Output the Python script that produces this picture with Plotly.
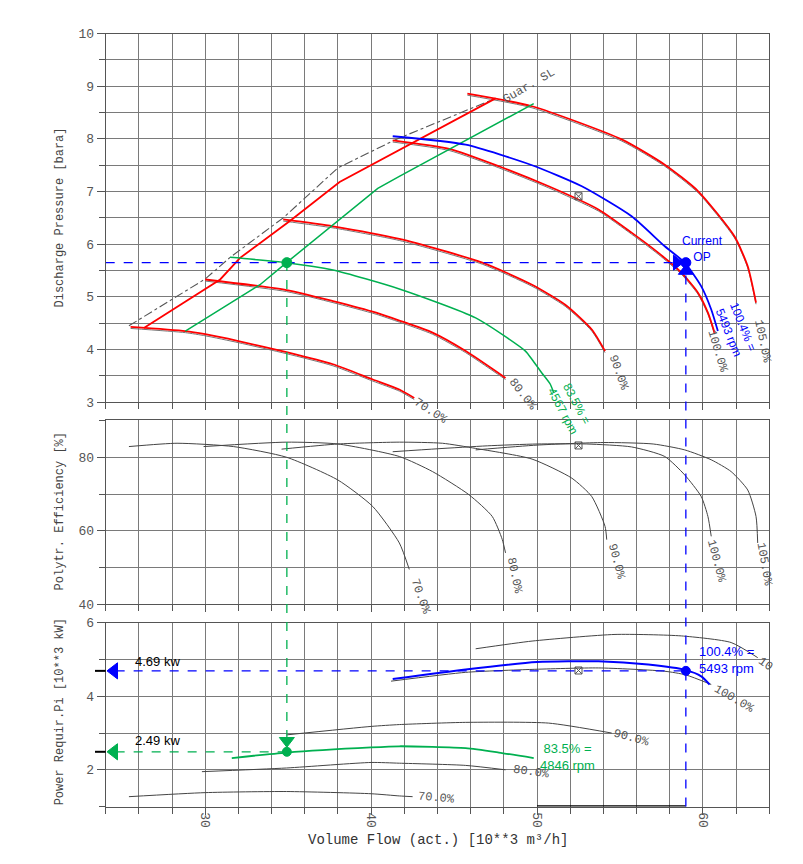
import plotly.graph_objects as go

# ---------------- data ----------------
# Discharge pressure [bara] vs volume flow [10**3 m3/h]
p70_x = [25.5, 28.8, 30.0, 32.0, 34.9, 37.7, 40.1, 41.7, 42.6]
p70_y = [4.43, 4.35, 4.29, 4.16, 3.95, 3.72, 3.43, 3.24, 3.08]
p80_x = [30.0, 34.9, 37.7, 40.3, 41.7, 43.7, 45.7, 48.1]
p80_y = [5.33, 5.13, 4.92, 4.70, 4.55, 4.32, 3.97, 3.46]
p835_x = [31.5, 34.9, 37.7, 41.7, 46.3, 49.3, 49.7, 50.3, 50.8, 51.0]
p835_y = [5.75, 5.65, 5.51, 5.15, 4.60, 3.97, 3.81, 3.55, 3.34, 3.18]
p90_x = [34.7, 37.7, 41.7, 46.7, 49.7, 51.7, 53.3, 54.1]
p90_y = [6.47, 6.34, 6.10, 5.65, 5.23, 4.85, 4.38, 3.97]
p100_x = [41.3, 44.7, 47.7, 50.7, 53.7, 55.7, 57.3, 58.7, 59.7, 60.3, 60.7]
p100_y = [7.97, 7.81, 7.48, 7.10, 6.66, 6.22, 5.84, 5.46, 5.08, 4.70, 4.32]
p1004_x = [41.3, 45.7, 49.7, 52.7, 55.7, 57.7, 58.9, 59.9, 60.5, 60.9]
p1004_y = [8.05, 7.89, 7.50, 7.10, 6.53, 5.96, 5.65, 5.20, 4.76, 4.35]
p105_x = [45.8, 49.7, 55.1, 57.7, 59.7, 61.9, 62.7, 63.2]
p105_y = [8.86, 8.62, 7.99, 7.51, 7.01, 6.15, 5.58, 4.89]

surge_red_x = [26.3, 30.9, 32.1, 35.1, 38.1, 40.3, 41.7, 47.5]
surge_red_y = [4.41, 5.33, 5.74, 6.44, 7.18, 7.55, 7.80, 8.77]
surge_green_x = [28.8, 33.3, 34.9, 38.1, 40.4, 41.7, 49.8]
surge_green_y = [4.35, 5.23, 5.65, 6.47, 7.06, 7.29, 8.67]
surge_guar_x = [25.4, 30.0, 31.5, 34.7, 38.0, 41.5, 47.5]
surge_guar_y = [4.45, 5.34, 5.75, 6.50, 7.45, 7.99, 8.77]

# Polytropic efficiency [%]
e70_x = [25.4, 28.3, 31.7, 34.9, 38.0, 40.1, 41.7, 42.3]
e70_y = [82.9, 83.8, 82.9, 80.0, 73.8, 66.6, 56.7, 49.5]
e80_x = [29.9, 34.9, 38.0, 41.7, 43.7, 45.9, 47.3, 47.9, 48.1]
e80_y = [82.9, 84.1, 83.6, 80.2, 76.1, 69.8, 63.9, 57.7, 54.0]
e90_x = [34.6, 38.0, 41.7, 44.3, 46.3, 49.7, 52.1, 53.3, 54.1, 54.2]
e90_y = [82.2, 83.6, 84.1, 83.8, 82.4, 79.5, 74.3, 69.3, 61.2, 57.6]
e100_x = [41.3, 44.0, 47.0, 50.0, 53.0, 55.7, 57.7, 58.9, 59.9, 60.3, 60.5]
e100_y = [81.5, 82.3, 83.1, 83.6, 83.6, 82.8, 80.2, 75.2, 69.3, 63.9, 58.5]
e105_x = [46.3, 50.0, 54.0, 57.0, 58.9, 60.5, 61.7, 62.7, 63.2, 63.3]
e105_y = [82.0, 83.3, 84.0, 83.6, 82.0, 79.3, 76.1, 71.1, 63.9, 56.7]

# Power requirement [10**3 kW]
w70_x = [25.4, 30.0, 34.9, 40.0, 41.7, 42.5]
w70_y = [1.27, 1.38, 1.41, 1.35, 1.29, 1.27]
w80_x = [29.8, 34.9, 40.0, 41.7, 45.7, 48.1]
w80_y = [1.95, 2.05, 2.20, 2.18, 2.12, 2.00]
w835_x = [31.6, 34.9, 40.0, 41.7, 45.7, 47.7, 49.8]
w835_y = [2.32, 2.47, 2.61, 2.64, 2.59, 2.47, 2.32]
w90_x = [34.9, 40.0, 41.7, 45.7, 50.7, 54.5]
w90_y = [2.95, 3.18, 3.23, 3.29, 3.27, 3.00]
w100_x = [41.2, 45.7, 49.7, 53.7, 57.7, 58.97, 60.5]
w100_y = [4.41, 4.65, 4.73, 4.77, 4.68, 4.58, 4.32]
w1004_x = [41.3, 45.7, 50.0, 53.7, 56.7, 58.97, 59.9, 60.4]
w1004_y = [4.47, 4.73, 4.93, 4.95, 4.86, 4.71, 4.54, 4.32]
w105_x = [46.3, 49.7, 54.7, 58.7, 61.7, 63.3]
w105_y = [5.29, 5.50, 5.68, 5.64, 5.46, 5.05]

# operating points
op_flow, op_pres, op_power = 58.97, 5.65, 4.69
gr_flow, gr_pres, gr_power = 34.92, 5.65, 2.49
design_flow = 52.5
design_vals = [6.91, 83.2, 4.70]
base_bar_x = [50.0, 58.97]
base_bar_y = [1.0, 1.0]

x_range = [24, 64]

# ---------------- styling ----------------
RED, GREEN, BLUE = "#ff0000", "#00b050", "#0000ff"
GRAY = "#444444"
GRID = "#7a7a7a"
MONO = "Liberation Mono, Courier New, monospace"
SANS = "Arial, Liberation Sans, sans-serif"

W, H = 803, 864


def pxx(p):
    return (p - 8) / W


def pxy(p):
    return (H - (p - 14.4) / 0.983) / H


xdom = [pxx(105.7), pxx(769.3)]
dom_top = [pxy(402.7), pxy(34)]
dom_mid = [pxy(605), pxy(421)]
dom_bot = [pxy(807.3), pxy(623.3)]
rng_top, rng_mid, rng_bot = [3, 10], [40, 90], [1, 6]


def to_paper(v, dom, rng):
    return dom[0] + (v - rng[0]) / (rng[1] - rng[0]) * (dom[1] - dom[0])


fig = go.Figure()


def line(x, y, axis, color, width=1.6, dash="solid", spline=True):
    xa, ya = axis
    fig.add_trace(go.Scatter(
        x=x, y=y, mode="lines", xaxis=xa, yaxis=ya, hoverinfo="skip",
        line=dict(color=color, width=width, dash=dash,
                  shape="spline" if spline else "linear", smoothing=0.6),
        showlegend=False))


def marker(x, y, axis, color, symbol, size):
    xa, ya = axis
    fig.add_trace(go.Scatter(
        x=x, y=y, mode="markers", xaxis=xa, yaxis=ya, hoverinfo="skip",
        marker=dict(color=color, symbol=symbol, size=size,
                    line=dict(color=color, width=1)),
        showlegend=False, cliponaxis=False))


TOP, MID, BOT = ("x", "y"), ("x2", "y2"), ("x3", "y3")

# top panel
line(surge_guar_x, surge_guar_y, TOP, "#555555", 1.1, "dashdot", False)
for xs, ys in [(p70_x, p70_y), (p80_x, p80_y), (p90_x, p90_y), (p100_x, p100_y), (p105_x, p105_y)]:
    line(xs, [v - 0.03 for v in ys], TOP, "#777777", 1.0)
    line(xs, ys, TOP, RED, 1.8)
line(surge_red_x, surge_red_y, TOP, RED, 1.8, spline=False)
line(surge_green_x, surge_green_y, TOP, GREEN, 1.5, spline=False)
line(p835_x, p835_y, TOP, GREEN, 1.5)
line(p1004_x, p1004_y, TOP, BLUE, 1.8)
line([x_range[0], op_flow - 0.55], [op_pres, op_pres], TOP, BLUE, 1.3, "dash", False)

# middle panel
for xs, ys in [(e70_x, e70_y), (e80_x, e80_y), (e90_x, e90_y), (e100_x, e100_y), (e105_x, e105_y)]:
    line(xs, ys, MID, GRAY, 1.0)

# bottom panel
for xs, ys in [(w70_x, w70_y), (w80_x, w80_y), (w90_x, w90_y), (w100_x, w100_y), (w105_x, w105_y)]:
    line(xs, ys, BOT, GRAY, 1.0)
line(w835_x, w835_y, BOT, GREEN, 1.8)
line(w1004_x, w1004_y, BOT, BLUE, 2.0)
line([x_range[0] + 0.6, op_flow], [op_power, op_power], BOT, BLUE, 1.3, "dash", False)
line([x_range[0] + 0.6, gr_flow], [gr_power, gr_power], BOT, GREEN, 1.3, "dash", False)
fig.add_trace(go.Scatter(x=base_bar_x, y=base_bar_y, mode="lines", xaxis="x3", yaxis="y3",
                         line=dict(color="black", width=2.5), cliponaxis=False,
                         hoverinfo="skip", showlegend=False))

# markers
marker([design_flow], [design_vals[0]], TOP, "#555555", "square-x-open", 7)
marker([design_flow], [design_vals[1]], MID, "#555555", "square-x-open", 7)
marker([design_flow], [design_vals[2]], BOT, "#555555", "square-x-open", 7)
marker([op_flow], [op_pres], TOP, BLUE, "circle", 10)
marker([gr_flow], [gr_pres], TOP, GREEN, "circle", 10)
marker([op_flow - 0.55], [op_pres], TOP, BLUE, "triangle-right", 13)
marker([op_flow], [op_pres - 0.16], TOP, BLUE, "triangle-up", 13)
marker([op_flow], [op_power], BOT, BLUE, "circle", 9)
marker([gr_flow], [gr_power], BOT, GREEN, "circle", 9)
marker([gr_flow], [gr_power + 0.3], BOT, GREEN, "triangle-down", 13)
marker([x_range[0] + 0.5], [op_power], BOT, BLUE, "triangle-left", 14)
marker([x_range[0] + 0.5], [gr_power], BOT, GREEN, "triangle-left", 14)

# shapes spanning panels
shapes = [
    dict(type="line", xref="x", yref="paper", x0=op_flow, x1=op_flow,
         y0=dom_bot[0], y1=to_paper(op_pres - 0.2, dom_top, rng_top),
         line=dict(color=BLUE, width=1.3, dash="dash")),
    dict(type="line", xref="x", yref="paper", x0=gr_flow, x1=gr_flow,
         y0=to_paper(gr_power + 0.35, dom_bot, rng_bot), y1=to_paper(gr_pres, dom_top, rng_top),
         line=dict(color=GREEN, width=1.3, dash="dash")),
]
for pv in [op_power, gr_power]:
    yp = to_paper(pv, dom_bot, rng_bot)
    shapes.append(dict(type="line", xref="paper", yref="paper", x0=pxx(95), x1=xdom[0],
                       y0=yp, y1=yp, line=dict(color="black", width=2)))

# annotations (positions in reference pixels)
ann = []


def lab(text, px, py, angle, color="#555555", font=MONO, size=12, **kw):
    d = dict(text=text, x=pxx(px), y=pxy(py), xref="paper", yref="paper", textangle=angle,
             showarrow=False, font=dict(family=font, size=size, color=color),
             xanchor="center", yanchor="middle")
    d.update(kw)
    ann.append(d)


# top panel labels
lab("70.0%", 430, 412, 33)
lab("80.0%", 522, 395, 52)
lab("83.5% =<br>4567 rpm", 569, 408, 62, GREEN, SANS, 12)
lab("90.0%", 618, 373, 70)
lab("100.0%", 717, 352, 73)
lab("100.4% =<br>5493 rpm", 735, 330, 68, BLUE, SANS, 12)
lab("105.0%", 762, 342, 78)
lab("Guar. SL", 529, 86, -30)
lab("Current<br>OP", 702, 249, 0, BLUE, SANS, 12)

# efficiency labels
lab("70.0%", 420, 597, 70)
lab("80.0%", 514, 576, 78)
lab("90.0%", 616, 562, 75)
lab("100.0%", 716, 562, 75)
lab("105.0%", 764, 565, 80)

# power labels
lab("70.0%", 436, 799, 5)
lab("80.0%", 531, 773, 8)
lab("90.0%", 631, 739, 15)
lab("100.0%", 734, 700, 30)
lab("10", 765, 665, 35)
lab("100.4% =<br>5493 rpm", 697, 661, 0, BLUE, SANS, 13, xanchor="left", align="left")
lab("83.5% =<br>4846 rpm", 567, 758, 0, GREEN, SANS, 13)
lab("4.69 kw", 157, 662, 0, "black", SANS, 13)
lab("2.49 kw", 157, 741, 0, "black", SANS, 13)

lab("Discharge Pressure [bara]", 60, 218, -90, "#444444", MONO, 12)
lab("Polytr. Efficiency [%]", 60, 512, -90, "#444444", MONO, 12)
lab("Power Requir.Pi [10**3 kW]", 60, 712, -90, "#444444", MONO, 12)
lab("Volume Flow (act.) [10**3 m³/h]", 438, 841, 0, "#333333", MONO, 14)


def xaxis(anchor, labels, match=None):
    d = dict(domain=xdom, range=x_range, anchor=anchor, tick0=0, dtick=10,
             showgrid=True, gridcolor=GRID, gridwidth=1,
             showline=True, linecolor="#555555", linewidth=1.2, mirror=True,
             ticks="outside", ticklen=7, tickcolor="#555555",
             showticklabels=labels, tickangle=90, ticklabelstandoff=-5,
             tickfont=dict(family=MONO, size=13, color="#555555"),
             minor=dict(dtick=2, showgrid=True, gridcolor=GRID, gridwidth=1,
                        ticks="outside", ticklen=6, tickcolor="#555555"),
             zeroline=False)
    if match:
        d["matches"] = match
    return d


def yaxis(anchor, dom, rng, dtick, minor):
    return dict(domain=dom, range=rng, anchor=anchor, tick0=0, dtick=dtick,
                showgrid=True, gridcolor=GRID, gridwidth=1,
                showline=True, linecolor="#555555", linewidth=1.2, mirror=True,
                ticks="outside", ticklen=8, tickcolor="#555555",
                tickfont=dict(family=MONO, size=13, color="#555555"),
                minor=dict(dtick=minor, showgrid=True, gridcolor=GRID, gridwidth=1,
                           ticks="outside", ticklen=6, tickcolor="#555555"),
                zeroline=False)


fig.update_layout(
    width=W, height=H, margin=dict(l=0, r=0, t=0, b=0),
    paper_bgcolor="white", plot_bgcolor="white", showlegend=False,
    xaxis=xaxis("y", False), xaxis2=xaxis("y2", False, "x"), xaxis3=xaxis("y3", True, "x"),
    yaxis=yaxis("x", dom_top, rng_top, 1, 0.5),
    yaxis2=yaxis("x2", dom_mid, rng_mid, 20, 10),
    yaxis3=yaxis("x3", dom_bot, rng_bot, 2, 1),
    shapes=shapes, annotations=ann,
)

fig.write_html("out.html")
